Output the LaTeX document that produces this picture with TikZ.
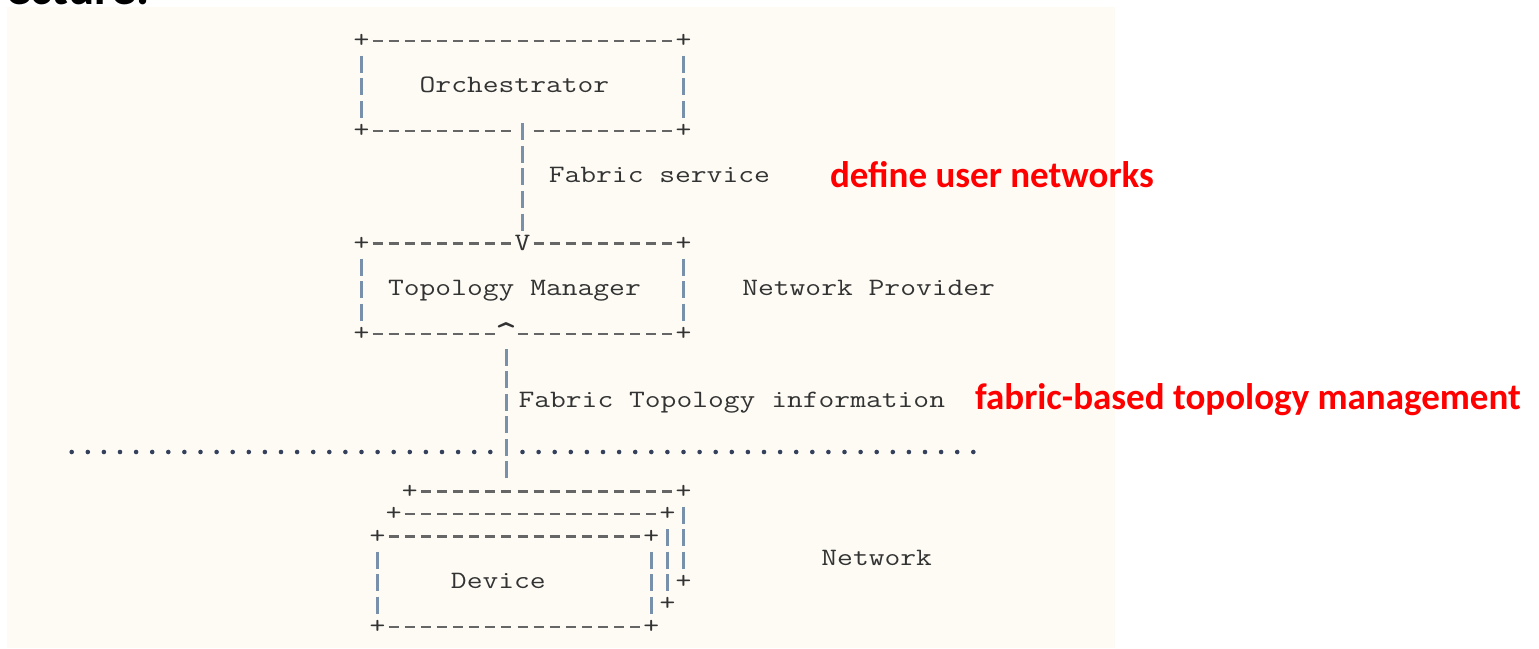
\documentclass[tikz,border=0pt]{standalone}
\usepackage{fontspec}
\usepackage{graphicx}
\newfontfamily\calfont{Carlito}
\definecolor{bgcream}{HTML}{FDFBF4}
\definecolor{asctext}{HTML}{333333}
\definecolor{dashcol}{HTML}{666666}
\definecolor{barcol}{HTML}{7890AA}
\definecolor{dotcol}{HTML}{34405C}
\definecolor{redtxt}{HTML}{FF0000}
\newcommand\monostretch[1]{\scalebox{1.227}[1]{#1}}
\tikzset{
  asc/.style={inner sep=0pt, outer sep=0pt, anchor=base, text=asctext,
    font=\fontsize{25}{30}\selectfont\ttfamily\addfontfeatures{FakeBold=1.8}},
  hdash/.style={draw=dashcol, line width=2.3pt, dash pattern=on 10pt off 6.1pt, dash phase=13.05pt},
  vbar/.style={draw=barcol, line width=2.6pt, dash pattern=on 17pt off 5.54pt, dash phase=19.77pt},
  dotline/.style={draw=dotcol, line width=4.6pt, line cap=round, dash pattern=on 0pt off 16.1pt},
  redlbl/.style={inner sep=0pt, outer sep=0pt, anchor=base west, text=redtxt,
    font=\calfont\bfseries\fontsize{37}{44}\selectfont},
}
\newcommand\asciH[3]{\draw[hdash] ({cx(#2)-8.05},{ry(#1)}) -- ({cx(#3)+8.05},{ry(#1)});}
\newcommand\asciV[3]{\draw[vbar] ({cx(#1)},{ry(#2)+1-11.27}) -- ({cx(#1)},{ry(#3)+1+11.27});}
\begin{document}
\begin{tikzpicture}[x=1pt,y=-1pt,
  declare function={cx(\c)=361.5+16.1*\c; ry(\r)=40.7+22.54*\r;}]
\useasboundingbox (0,0) rectangle (1539,648);
\fill[white] (0,0) rectangle (1539,648);
\fill[bgcream] (7,7) rectangle (1115,648);
\node[anchor=base west, inner sep=0pt, font=\calfont\bfseries\fontsize{49}{58}\selectfont] (title) at (6,4.5) {ecture.};

% ---------- Orchestrator box ----------
\node[asc] (o-tl) at ({cx(0)},{ry(0)+6.5}) {\monostretch{+}};
\node[asc] (o-tr) at ({cx(20)},{ry(0)+6.5}) {\monostretch{+}};
\node[asc] (o-bl) at ({cx(0)},{ry(4)+6.5}) {\monostretch{+}};
\node[asc] (o-br) at ({cx(20)},{ry(4)+6.5}) {\monostretch{+}};
\asciH{0}{1}{19}
\asciH{4}{1}{9}
\asciH{4}{11}{19}
\asciV{0}{1}{3}
\asciV{20}{1}{3}
\node[asc] (orch) at ({cx(9.5)},{ry(2)+6.5}) {\monostretch{Orchestrator}};

% ---------- connector: Fabric service ----------
\coordinate (c1top) at ({cx(10)},{ry(4)+1-11.27});
\coordinate (c1bot) at ({cx(10)},{ry(8)+1+11.27});
\node[asc] (vtip) at ({cx(10)},{ry(9)+6.5}) {\monostretch{V}};
\draw[vbar] (c1top) -- (c1bot);
\node[asc] (fsvc) at ({cx(18.5)},{ry(6)+6.5}) {\monostretch{Fabric service}};
\node[redlbl] (defnet) at (830,187) {define user networks};

% ---------- Topology Manager box ----------
\node[asc] (t-tl) at ({cx(0)},{ry(9)+6.5}) {\monostretch{+}};
\node[asc] (t-tr) at ({cx(20)},{ry(9)+6.5}) {\monostretch{+}};
\node[asc] (t-bl) at ({cx(0)},{ry(13)+6.5}) {\monostretch{+}};
\node[asc] (t-br) at ({cx(20)},{ry(13)+6.5}) {\monostretch{+}};
\asciH{9}{1}{9}
\asciH{9}{11}{19}
\asciH{13}{1}{8}
\asciH{13}{10}{19}
\asciV{0}{10}{12}
\asciV{20}{10}{12}
\node[asc] (topo) at ({cx(9.5)},{ry(11)+6.5}) {\monostretch{Topology Manager}};
\node[asc] (netprov) at ({cx(31.5)},{ry(11)+6.5}) {\monostretch{Network Provider}};

% ---------- connector: Fabric Topology information ----------
\node[asc] (utip) at ({cx(9)},{ry(13)+14}) {\scalebox{1.7}[1.6]{\char`\^}};
\coordinate (c2top) at ({cx(9)},{ry(14)+1-11.27});
\coordinate (c2bot) at ({cx(9)},{ry(19)+1+11.27});
\draw[vbar] (c2bot) -- (c2top);
\node[asc] (ftinfo) at ({cx(23)},{ry(16)+6.5}) {\monostretch{Fabric Topology information}};
\node[redlbl] (fbtm) at (975,409) {fabric-based topology management};

% ---------- dotted boundary ----------
\coordinate (dl1) at ({cx(-18)},452);
\coordinate (dl2) at ({cx(8)+0.3},452);
\coordinate (dr1) at ({cx(10)},452);
\coordinate (dr2) at ({cx(38)+0.3},452);
\draw[dotline] (dl1) -- (dl2);
\draw[dotline] (dr1) -- (dr2);

% ---------- Device stack ----------
% back box
\node[asc] (d3-tl) at ({cx(3)},{ry(20)+6.5}) {\monostretch{+}};
\node[asc] (d3-tr) at ({cx(20)},{ry(20)+6.5}) {\monostretch{+}};
\node[asc] (d3-br) at ({cx(20)},{ry(24)+6.5}) {\monostretch{+}};
\asciH{20}{4}{19}
\asciV{20}{21}{23}
% middle box
\node[asc] (d2-tl) at ({cx(2)},{ry(21)+6.5}) {\monostretch{+}};
\node[asc] (d2-tr) at ({cx(19)},{ry(21)+6.5}) {\monostretch{+}};
\node[asc] (d2-br) at ({cx(19)},{ry(25)+6.5}) {\monostretch{+}};
\asciH{21}{3}{18}
\asciV{19}{22}{24}
% front box
\node[asc] (d1-tl) at ({cx(1)},{ry(22)+6.5}) {\monostretch{+}};
\node[asc] (d1-tr) at ({cx(18)},{ry(22)+6.5}) {\monostretch{+}};
\node[asc] (d1-bl) at ({cx(1)},{ry(26)+6.5}) {\monostretch{+}};
\node[asc] (d1-br) at ({cx(18)},{ry(26)+6.5}) {\monostretch{+}};
\asciH{22}{2}{17}
\asciH{26}{2}{17}
\asciV{1}{23}{25}
\asciV{18}{23}{25}
\node[asc] (device) at ({cx(8.5)},{ry(24)+6.5}) {\monostretch{Device}};
\node[asc] (network) at ({cx(32)},{ry(23)+6.5}) {\monostretch{Network}};
\end{tikzpicture}
\end{document}
